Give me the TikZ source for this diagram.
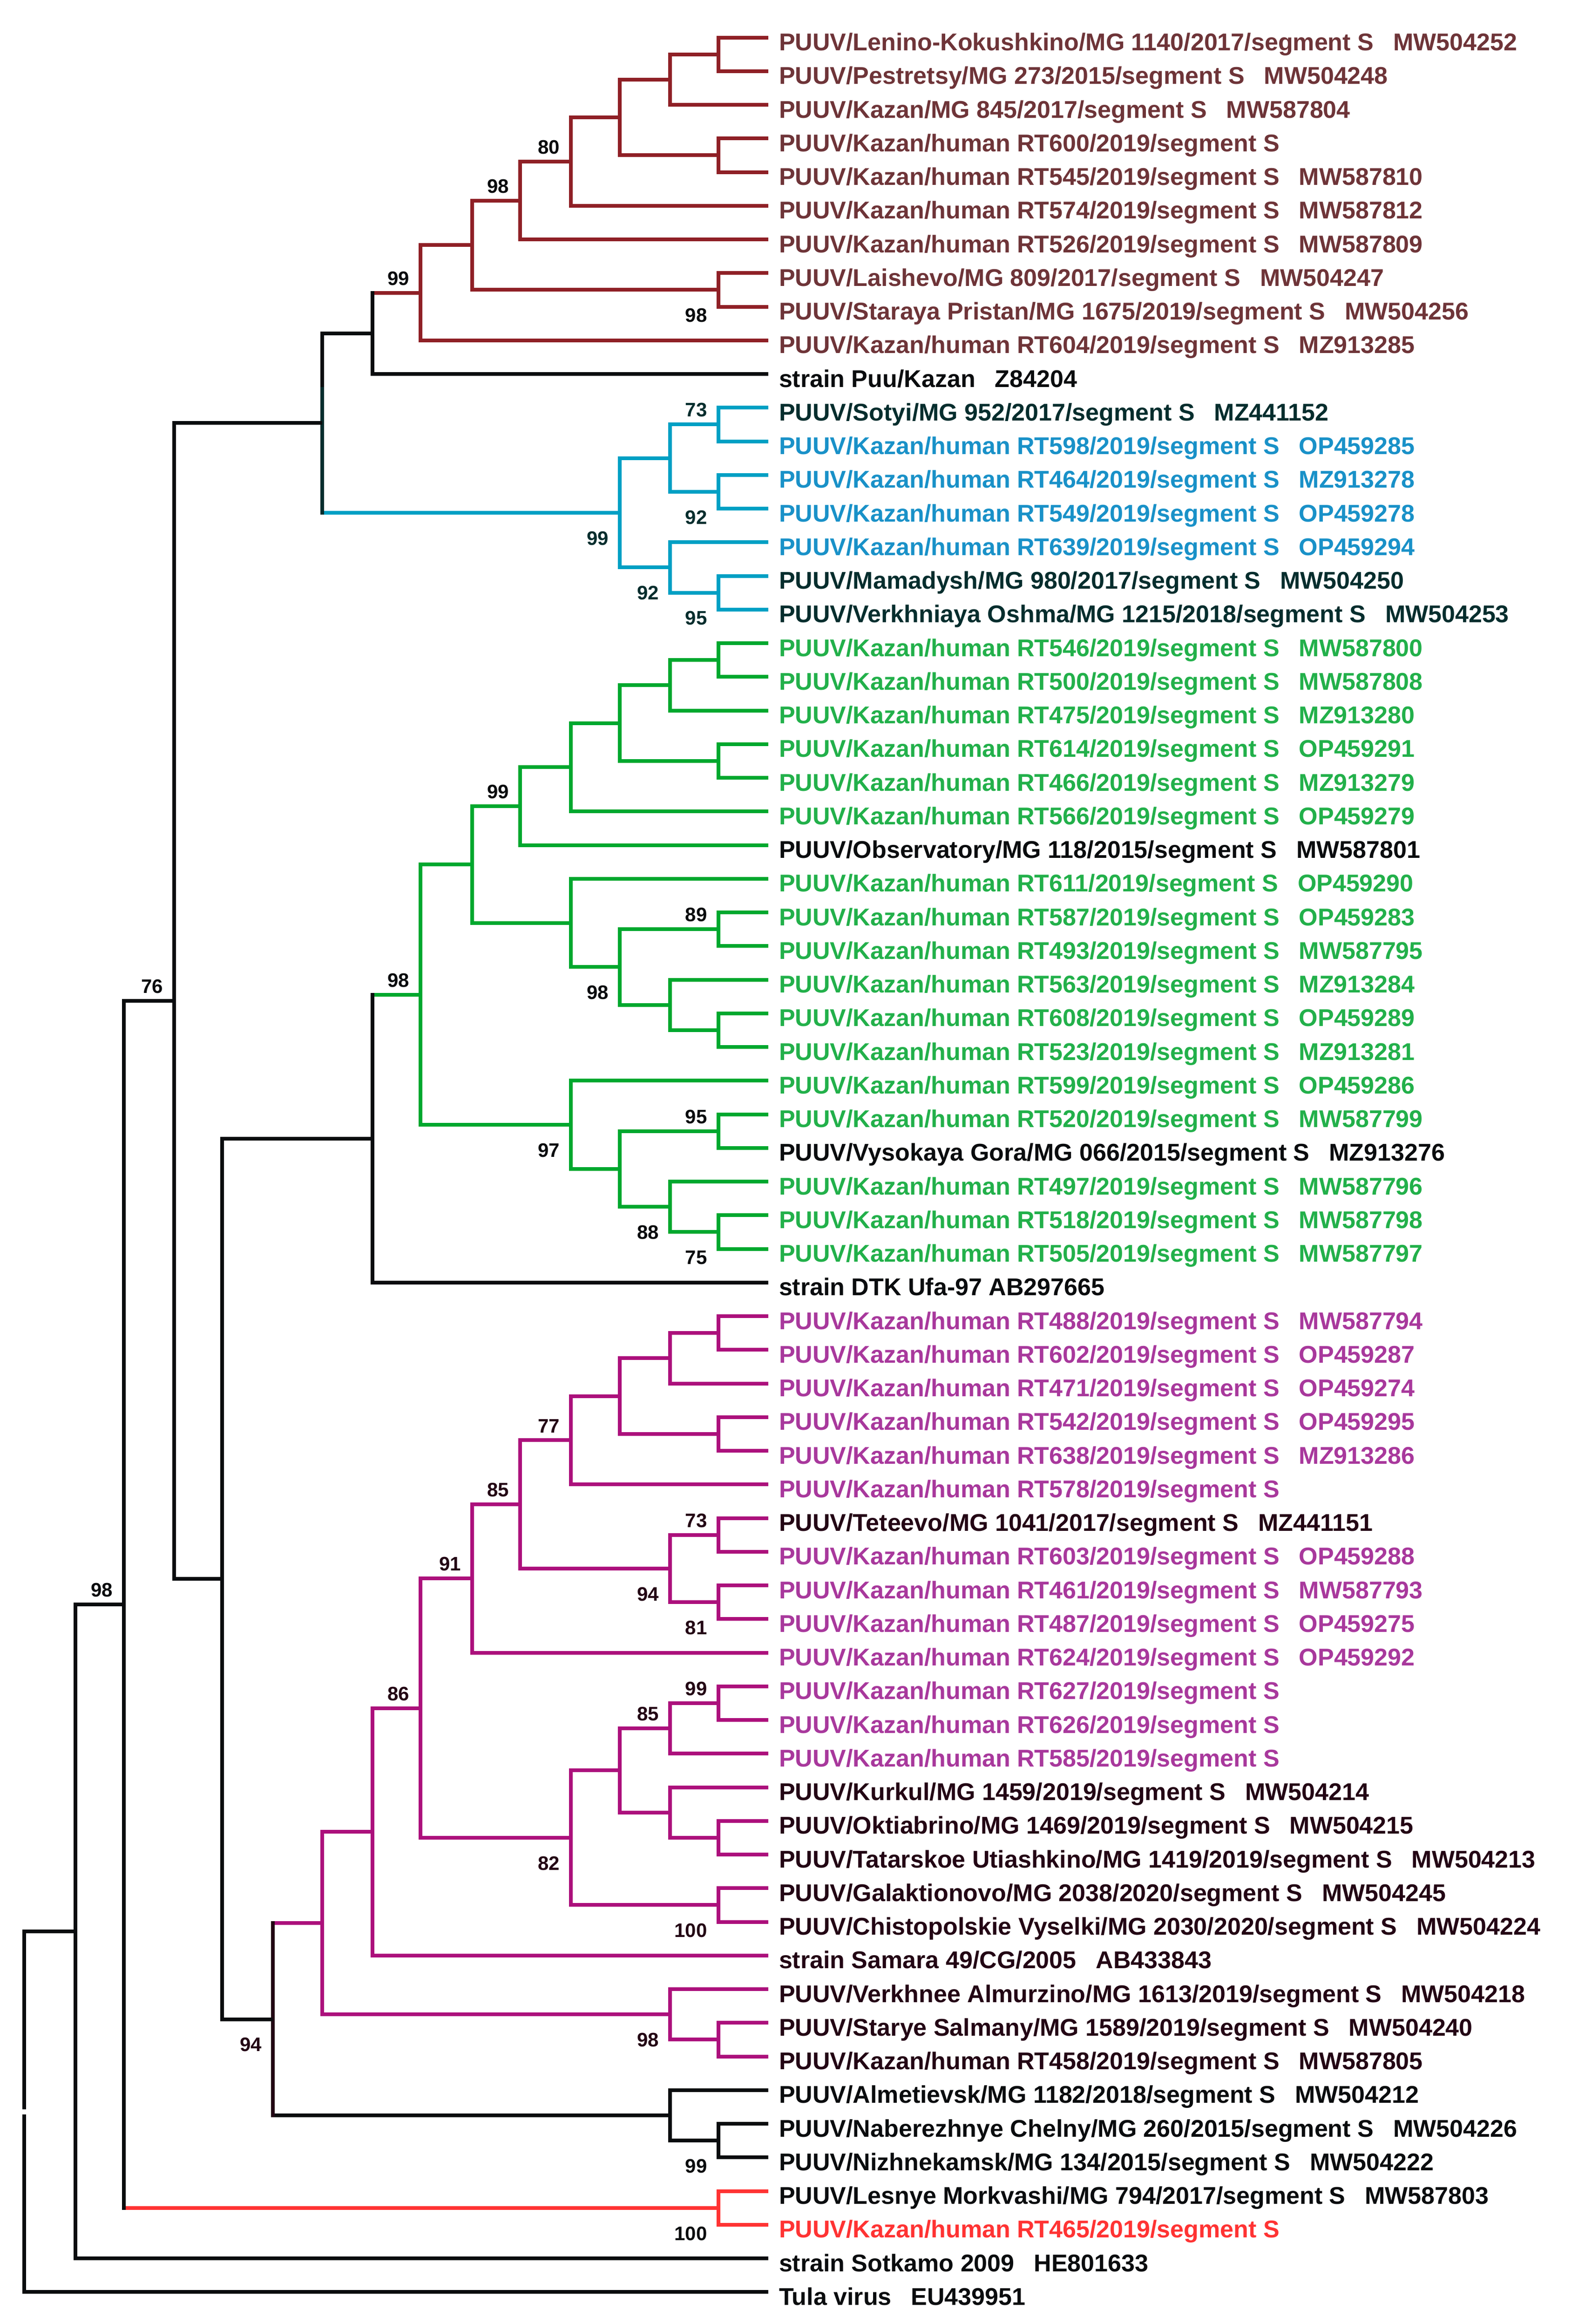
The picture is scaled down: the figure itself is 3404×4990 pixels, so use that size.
\documentclass[tikz,border=0pt]{standalone}
\usepackage{fontspec}
\setmainfont{Liberation Sans}
\usetikzlibrary{calc}
\definecolor{brL}{RGB}{143,32,38}
\definecolor{brT}{RGB}{110,52,56}
\definecolor{blL}{RGB}{0,160,196}
\definecolor{blT}{RGB}{25,145,200}
\definecolor{dtT}{RGB}{5,45,45}
\definecolor{grL}{RGB}{0,168,46}
\definecolor{grT}{RGB}{34,176,74}
\definecolor{mgL}{RGB}{172,16,124}
\definecolor{mgT}{RGB}{168,56,156}
\definecolor{dmT}{RGB}{35,5,20}
\definecolor{rdL}{RGB}{255,51,51}
\definecolor{bk}{RGB}{10,12,14}
\tikzset{
  lab/.style={inner sep=0pt, anchor=base west, font=\fontsize{5.2}{6}\selectfont\bfseries},
  bsl/.style={inner sep=0pt, font=\fontsize{4.2}{5}\selectfont\bfseries}
}
\newcommand\acc{\hspace{4.2pt}}
\newcommand\leaf[3]{%
  \pgfmathsetmacro\yy{80.5+(#1-1)*72.25}%
  \coordinate (L#1) at (1650,\yy);
  \node[lab,text=#2] (T#1) at (1669,\yy+28) {#3};}
\newcommand\clade[5]{%
  \coordinate (tmp) at ($(#3)!0.5!(#4)$);
  \coordinate (#1) at (#2 |- tmp);
  \draw[#5] (#3) -| (#1) |- (#4);}
\newcommand\mixed[7]{%
  \coordinate (tmp) at ($(#3)!0.5!(#4)$);
  \coordinate (#1) at (#2 |- tmp);
  \draw[#5] (#3) -- (#1 |- #3);
  \draw[#6] (#4) -- (#1 |- #4);
  \draw[#7, line cap=rect] (#1 |- #3) -- (#1 |- #4);}
\newcommand\bsa[3]{\node[bsl,anchor=south east,text=#3] (ba-#1) at ($(#1)+(-20,-12)$) {#2};}
\newcommand\bsb[3]{\node[bsl,anchor=north east,text=#3] (bb-#1) at ($(#1)+(-20,36)$) {#2};}
\begin{document}
\begin{tikzpicture}[x=0.1pt,y=-0.1pt,line width=0.8pt]
\fill[white] (0,0) rectangle (3404,4990);
\useasboundingbox (0,0) rectangle (3404,4990);
% columns
\coordinate (c0) at (52,0);
\coordinate (c1) at (162,0);
\coordinate (c2) at (266,0);
\coordinate (c3) at (374,0);
\coordinate (c4) at (477,0);
\coordinate (c5) at (586,0);
\coordinate (c6) at (692,0);
\coordinate (c7) at (800,0);
\coordinate (c8) at (903,0);
\coordinate (c9) at (1014,0);
\coordinate (c10) at (1117,0);
\coordinate (c11) at (1226,0);
\coordinate (c12) at (1331,0);
\coordinate (c13) at (1439,0);
\coordinate (c14) at (1542.5,0);
% leaves
\leaf{1}{brT}{PUUV/Lenino-Kokushkino/MG 1140/2017/segment S\acc MW504252}
\leaf{2}{brT}{PUUV/Pestretsy/MG 273/2015/segment S\acc MW504248}
\leaf{3}{brT}{PUUV/Kazan/MG 845/2017/segment S\acc MW587804}
\leaf{4}{brT}{PUUV/Kazan/human RT600/2019/segment S}
\leaf{5}{brT}{PUUV/Kazan/human RT545/2019/segment S\acc MW587810}
\leaf{6}{brT}{PUUV/Kazan/human RT574/2019/segment S\acc MW587812}
\leaf{7}{brT}{PUUV/Kazan/human RT526/2019/segment S\acc MW587809}
\leaf{8}{brT}{PUUV/Laishevo/MG 809/2017/segment S\acc MW504247}
\leaf{9}{brT}{PUUV/Staraya Pristan/MG 1675/2019/segment S\acc MW504256}
\leaf{10}{brT}{PUUV/Kazan/human RT604/2019/segment S\acc MZ913285}
\leaf{11}{bk}{strain Puu/Kazan\acc Z84204}
\leaf{12}{dtT}{PUUV/Sotyi/MG 952/2017/segment S\acc MZ441152}
\leaf{13}{blT}{PUUV/Kazan/human RT598/2019/segment S\acc OP459285}
\leaf{14}{blT}{PUUV/Kazan/human RT464/2019/segment S\acc MZ913278}
\leaf{15}{blT}{PUUV/Kazan/human RT549/2019/segment S\acc OP459278}
\leaf{16}{blT}{PUUV/Kazan/human RT639/2019/segment S\acc OP459294}
\leaf{17}{dtT}{PUUV/Mamadysh/MG 980/2017/segment S\acc MW504250}
\leaf{18}{dtT}{PUUV/Verkhniaya Oshma/MG 1215/2018/segment S\acc MW504253}
\leaf{19}{grT}{PUUV/Kazan/human RT546/2019/segment S\acc MW587800}
\leaf{20}{grT}{PUUV/Kazan/human RT500/2019/segment S\acc MW587808}
\leaf{21}{grT}{PUUV/Kazan/human RT475/2019/segment S\acc MZ913280}
\leaf{22}{grT}{PUUV/Kazan/human RT614/2019/segment S\acc OP459291}
\leaf{23}{grT}{PUUV/Kazan/human RT466/2019/segment S\acc MZ913279}
\leaf{24}{grT}{PUUV/Kazan/human RT566/2019/segment S\acc OP459279}
\leaf{25}{bk}{PUUV/Observatory/MG 118/2015/segment S\acc MW587801}
\leaf{26}{grT}{PUUV/Kazan/human RT611/2019/segment S\acc OP459290}
\leaf{27}{grT}{PUUV/Kazan/human RT587/2019/segment S\acc OP459283}
\leaf{28}{grT}{PUUV/Kazan/human RT493/2019/segment S\acc MW587795}
\leaf{29}{grT}{PUUV/Kazan/human RT563/2019/segment S\acc MZ913284}
\leaf{30}{grT}{PUUV/Kazan/human RT608/2019/segment S\acc OP459289}
\leaf{31}{grT}{PUUV/Kazan/human RT523/2019/segment S\acc MZ913281}
\leaf{32}{grT}{PUUV/Kazan/human RT599/2019/segment S\acc OP459286}
\leaf{33}{grT}{PUUV/Kazan/human RT520/2019/segment S\acc MW587799}
\leaf{34}{bk}{PUUV/Vysokaya Gora/MG 066/2015/segment S\acc MZ913276}
\leaf{35}{grT}{PUUV/Kazan/human RT497/2019/segment S\acc MW587796}
\leaf{36}{grT}{PUUV/Kazan/human RT518/2019/segment S\acc MW587798}
\leaf{37}{grT}{PUUV/Kazan/human RT505/2019/segment S\acc MW587797}
\leaf{38}{bk}{strain DTK Ufa-97 AB297665}
\leaf{39}{mgT}{PUUV/Kazan/human RT488/2019/segment S\acc MW587794}
\leaf{40}{mgT}{PUUV/Kazan/human RT602/2019/segment S\acc OP459287}
\leaf{41}{mgT}{PUUV/Kazan/human RT471/2019/segment S\acc OP459274}
\leaf{42}{mgT}{PUUV/Kazan/human RT542/2019/segment S\acc OP459295}
\leaf{43}{mgT}{PUUV/Kazan/human RT638/2019/segment S\acc MZ913286}
\leaf{44}{mgT}{PUUV/Kazan/human RT578/2019/segment S}
\leaf{45}{dmT}{PUUV/Teteevo/MG 1041/2017/segment S\acc MZ441151}
\leaf{46}{mgT}{PUUV/Kazan/human RT603/2019/segment S\acc OP459288}
\leaf{47}{mgT}{PUUV/Kazan/human RT461/2019/segment S\acc MW587793}
\leaf{48}{mgT}{PUUV/Kazan/human RT487/2019/segment S\acc OP459275}
\leaf{49}{mgT}{PUUV/Kazan/human RT624/2019/segment S\acc OP459292}
\leaf{50}{mgT}{PUUV/Kazan/human RT627/2019/segment S}
\leaf{51}{mgT}{PUUV/Kazan/human RT626/2019/segment S}
\leaf{52}{mgT}{PUUV/Kazan/human RT585/2019/segment S}
\leaf{53}{dmT}{PUUV/Kurkul/MG 1459/2019/segment S\acc MW504214}
\leaf{54}{dmT}{PUUV/Oktiabrino/MG 1469/2019/segment S\acc MW504215}
\leaf{55}{dmT}{PUUV/Tatarskoe Utiashkino/MG 1419/2019/segment S\acc MW504213}
\leaf{56}{dmT}{PUUV/Galaktionovo/MG 2038/2020/segment S\acc MW504245}
\leaf{57}{dmT}{PUUV/Chistopolskie Vyselki/MG 2030/2020/segment S\acc MW504224}
\leaf{58}{dmT}{strain Samara 49/CG/2005\acc AB433843}
\leaf{59}{dmT}{PUUV/Verkhnee Almurzino/MG 1613/2019/segment S\acc MW504218}
\leaf{60}{dmT}{PUUV/Starye Salmany/MG 1589/2019/segment S\acc MW504240}
\leaf{61}{dmT}{PUUV/Kazan/human RT458/2019/segment S\acc MW587805}
\leaf{62}{bk}{PUUV/Almetievsk/MG 1182/2018/segment S\acc MW504212}
\leaf{63}{bk}{PUUV/Naberezhnye Chelny/MG 260/2015/segment S\acc MW504226}
\leaf{64}{bk}{PUUV/Nizhnekamsk/MG 134/2015/segment S\acc MW504222}
\leaf{65}{bk}{PUUV/Lesnye Morkvashi/MG 794/2017/segment S\acc MW587803}
\leaf{66}{rdL}{PUUV/Kazan/human RT465/2019/segment S}
\leaf{67}{bk}{strain Sotkamo 2009\acc HE801633}
\leaf{68}{bk}{Tula virus\acc EU439951}
% brown clade
\clade{n1}{c14}{L1}{L2}{brL}
\clade{n2}{c13}{n1}{L3}{brL}
\clade{n3}{c14}{L4}{L5}{brL}
\clade{n4}{c12}{n2}{n3}{brL}
\clade{n5}{c11}{n4}{L6}{brL}
\clade{n6}{c10}{n5}{L7}{brL}
\clade{n7}{c14}{L8}{L9}{brL}
\clade{n8}{c9}{n6}{n7}{brL}
\clade{n9}{c8}{n8}{L10}{brL}
\mixed{n10}{c7}{n9}{L11}{brL}{bk}{bk}
% blue clade
\clade{b1}{c14}{L12}{L13}{blL}
\clade{b2}{c14}{L14}{L15}{blL}
\clade{b3}{c13}{b1}{b2}{blL}
\clade{b4}{c14}{L17}{L18}{blL}
\clade{b5}{c13}{L16}{b4}{blL}
\clade{b6}{c12}{b3}{b5}{blL}
\mixed{tp}{c6}{n10}{b6}{bk}{blL}{bk}
\coordinate (tpmid) at (692,835);
\draw[dtT, line cap=rect] (tpmid) -- (c6 |- b6);
% green clade
\clade{g1}{c14}{L19}{L20}{grL}
\clade{g2}{c13}{g1}{L21}{grL}
\clade{g3}{c14}{L22}{L23}{grL}
\clade{g4}{c12}{g2}{g3}{grL}
\clade{g5}{c11}{g4}{L24}{grL}
\clade{g6}{c10}{g5}{L25}{grL}
\clade{g7}{c14}{L27}{L28}{grL}
\clade{g8}{c14}{L30}{L31}{grL}
\clade{g9}{c13}{L29}{g8}{grL}
\clade{g10}{c12}{g7}{g9}{grL}
\clade{g11}{c11}{L26}{g10}{grL}
\clade{g12}{c9}{g6}{g11}{grL}
\clade{g13}{c14}{L33}{L34}{grL}
\clade{g14}{c14}{L36}{L37}{grL}
\clade{g15}{c13}{L35}{g14}{grL}
\clade{g16}{c12}{g13}{g15}{grL}
\clade{g17}{c11}{L32}{g16}{grL}
\clade{g18}{c8}{g12}{g17}{grL}
\mixed{g19}{c7}{g18}{L38}{grL}{bk}{bk}
% magenta clade
\clade{m1}{c14}{L39}{L40}{mgL}
\clade{m2}{c13}{m1}{L41}{mgL}
\clade{m3}{c14}{L42}{L43}{mgL}
\clade{m4}{c12}{m2}{m3}{mgL}
\clade{m5}{c11}{m4}{L44}{mgL}
\clade{m6}{c14}{L45}{L46}{mgL}
\clade{m7}{c14}{L47}{L48}{mgL}
\clade{m8}{c13}{m6}{m7}{mgL}
\clade{m9}{c10}{m5}{m8}{mgL}
\clade{m10}{c9}{m9}{L49}{mgL}
\clade{m11}{c14}{L50}{L51}{mgL}
\clade{m12}{c13}{m11}{L52}{mgL}
\clade{m13}{c14}{L54}{L55}{mgL}
\clade{m14}{c13}{L53}{m13}{mgL}
\clade{m15}{c12}{m12}{m14}{mgL}
\clade{m16}{c14}{L56}{L57}{mgL}
\clade{m17}{c11}{m15}{m16}{mgL}
\clade{m18}{c8}{m10}{m17}{mgL}
\clade{m19}{c7}{m18}{L58}{mgL}
\clade{m20}{c14}{L60}{L61}{mgL}
\clade{m21}{c13}{L59}{m20}{mgL}
\clade{m22}{c6}{m19}{m21}{mgL}
\clade{k1}{c14}{L63}{L64}{bk}
\clade{k2}{c13}{L62}{k1}{bk}
\mixed{m23}{c5}{m22}{k2}{mgL}{bk}{dmT}
% backbone
\clade{k3}{c4}{g19}{m23}{bk}
\clade{k4}{c3}{tp}{k3}{bk}
\clade{r1}{c14}{L65}{L66}{rdL}
\mixed{k5}{c2}{k4}{r1}{bk}{rdL}{bk}
\clade{k6}{c1}{k5}{L67}{bk}
\coordinate (tmp) at ($(k6)!0.5!(L68)$);
\coordinate (root) at (c0 |- tmp);
\coordinate (rootA) at ($(root)+(0,-5)$);
\coordinate (rootB) at ($(root)+(0,6)$);
\draw[bk] (k6) -| (rootA);
\draw[bk] (rootB) |- (L68);
% bootstrap values
\bsa{n5}{80}{bk}
\bsa{n6}{98}{bk}
\bsa{n9}{99}{bk}
\bsb{n7}{98}{bk}
\bsa{b1}{73}{dtT}
\bsb{b2}{92}{dtT}
\bsb{b6}{99}{dtT}
\bsb{b5}{92}{dtT}
\bsb{b4}{95}{dtT}
\bsa{g6}{99}{bk}
\bsa{g7}{89}{bk}
\bsa{g18}{98}{bk}
\bsa{g13}{95}{bk}
\bsb{g10}{98}{bk}
\bsb{g17}{97}{bk}
\bsb{g15}{88}{bk}
\bsb{g14}{75}{bk}
\bsa{k4}{76}{bk}
\bsa{m5}{77}{dmT}
\bsa{m9}{85}{dmT}
\bsa{m6}{73}{dmT}
\bsa{m10}{91}{dmT}
\bsa{m18}{86}{dmT}
\bsa{m11}{99}{dmT}
\bsa{m12}{85}{dmT}
\bsb{m8}{94}{dmT}
\bsb{m7}{81}{dmT}
\bsb{m17}{82}{dmT}
\bsb{m16}{100}{dmT}
\bsb{m21}{98}{dmT}
\bsb{m23}{94}{dmT}
\bsb{k1}{99}{bk}
\bsb{r1}{100}{bk}
\bsa{k5}{98}{bk}
\end{tikzpicture}
\end{document}
